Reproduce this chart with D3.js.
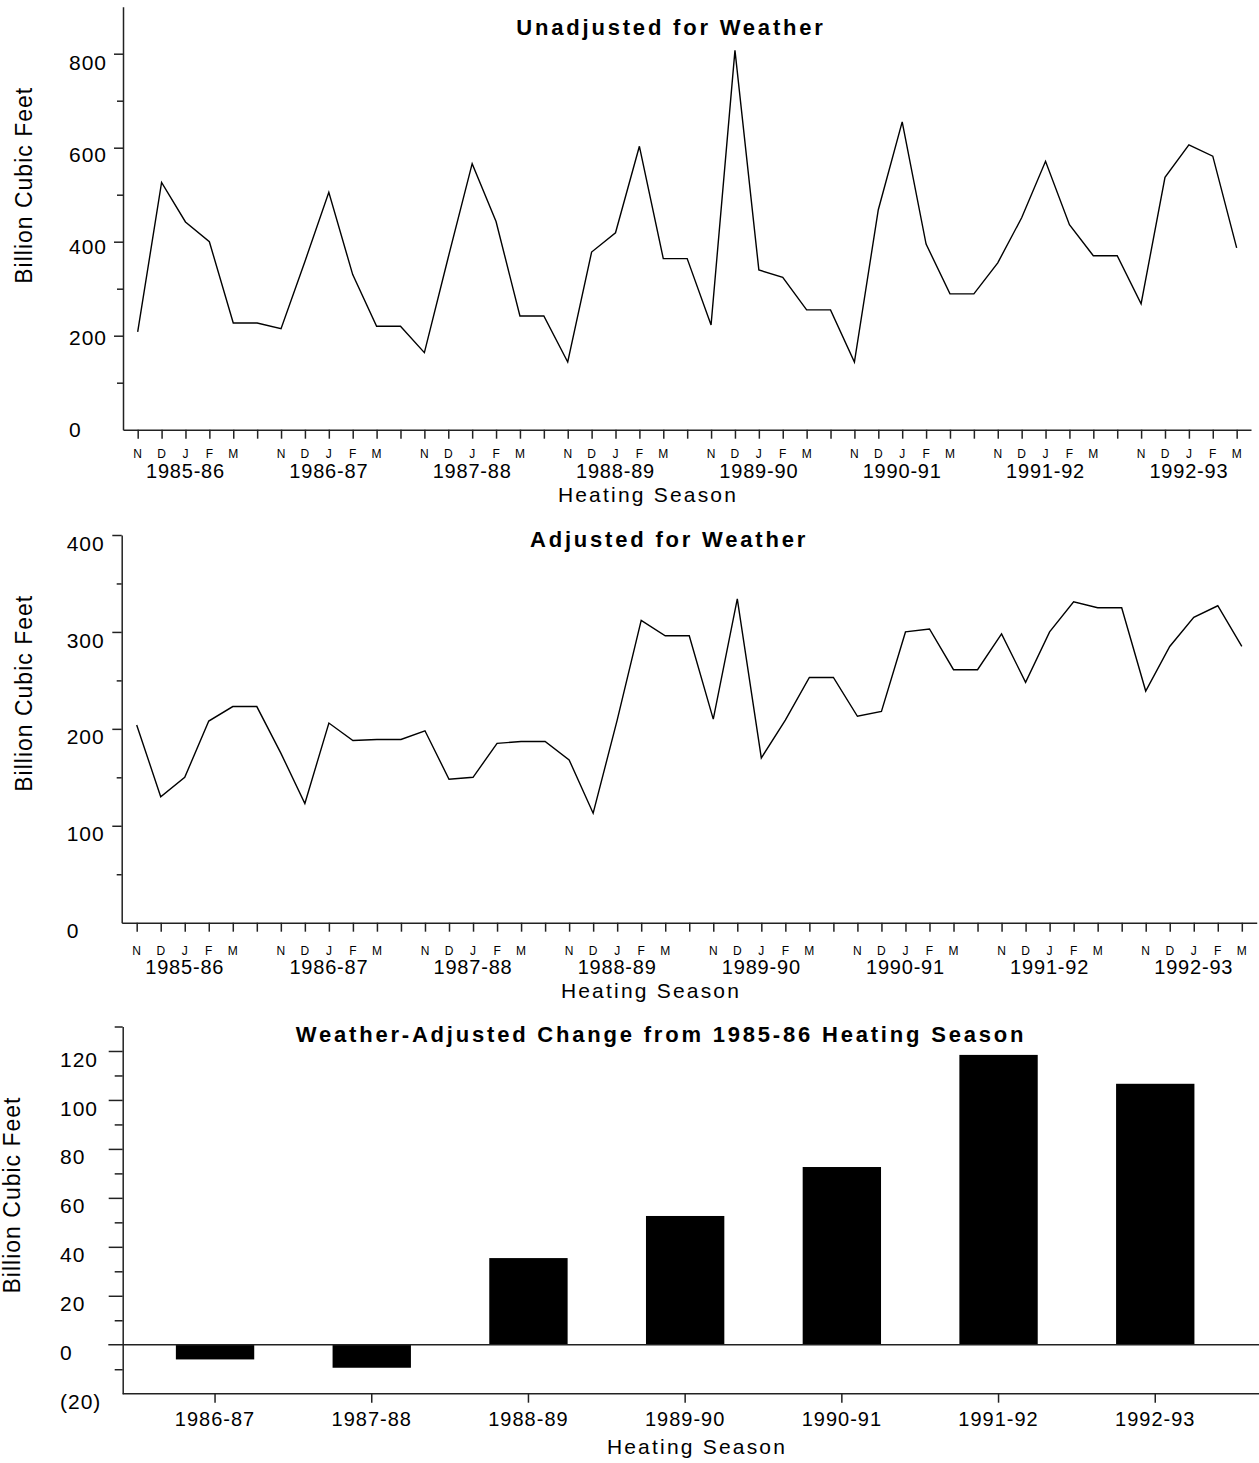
<!DOCTYPE html>
<html>
<head>
<meta charset="utf-8">
<script src="https://cdn.jsdelivr.net/npm/d3@7"></script>
<style>
    body { margin: 0; background: #fff; }
    svg { display: block; font-family: "Liberation Sans", Arial, sans-serif; }
</style>
</head>
<body>
<svg id="chart" width="1259" height="1463"></svg>
<script>
// values (one slot per month, the blank slot after M repeats M)
var seasons = ["1985-86", "1986-87", "1987-88", "1988-89", "1989-90", "1990-91", "1991-92", "1992-93"];
var monthLetters = ["N", "D", "J", "F", "M", ""];

var unadjusted = [
    208, 526, 442, 400, 227, 227,
    215, 358, 505, 330, 220, 220,
    164, 367, 566, 443, 242, 242,
    144, 378, 419, 603, 364, 364,
    223, 807, 340, 324, 255, 255,
    144, 468, 655, 395, 289, 289,
    355, 451, 571, 436, 370, 370,
    268, 537, 606, 582, 387
];

var adjusted = [
    204, 130, 150, 208, 223, 223,
    175, 123, 206, 188, 189, 189,
    198, 148, 150, 185, 187, 187,
    168, 113, 209, 312, 296, 296,
    210, 334, 170, 209, 253, 253,
    213, 218, 300, 303, 261, 261,
    298, 248, 300, 331, 325, 325,
    239, 285, 315, 327, 285
];

var changeSeasons = ["1986-87", "1987-88", "1988-89", "1989-90", "1990-91", "1991-92", "1992-93"];
var changeValues = [-6, -9.4, 35.4, 52.6, 72.6, 118.4, 106.6];

var unadjMajor = [200, 400, 600, 800], unadjMinor = [100, 300, 500, 700], unadjLabels = [0, 200, 400, 600, 800];
var adjMajor = [100, 200, 300, 400], adjMinor = [50, 150, 250, 350], adjLabels = [0, 100, 200, 300, 400];
var chgMajor = [20, 40, 60, 80, 100, 120], chgMinor = [-10, 10, 30, 50, 70, 90, 110, 130], chgLabels = [-20, 0, 20, 40, 60, 80, 100, 120];

var svg = d3.select("#chart");
var AXIS = "#222";

function styleAxis(sel) {
    sel.selectAll("path, line").attr("stroke", AXIS).attr("stroke-width", 1.5);
    return sel;
}

function yLabel(x, y) {
    svg.append("text")
        .attr("transform", `translate(${x},${y}) rotate(-90)`)
        .attr("text-anchor", "middle")
        .style("font-size", "23px").style("letter-spacing", "1px")
        .text("Billion Cubic Feet");
}

function title(txt, x, y) {
    svg.append("text")
        .attr("x", x).attr("y", y)
        .attr("text-anchor", "middle")
        .style("font-size", "22px").style("font-weight", "bold").style("letter-spacing", "2.8px")
        .text(txt);
}

function xTitle(x, y) {
    svg.append("text")
        .attr("x", x).attr("y", y)
        .attr("text-anchor", "middle")
        .style("font-size", "21px").style("letter-spacing", "2.2px")
        .text("Heating Season");
}

// line panels: top and middle
function linePanel(o) {
    const n = o.values.length;
    const x = d3.scaleLinear().domain(o.xDomain).range(o.xRange);
    const y = d3.scaleLinear().domain(o.yDomain).range(o.yRange);
    const yLab = d3.scaleLinear().domain(o.yDomain).range(o.labRange);
    const g = svg.append("g");

    styleAxis(g.append("g")
        .attr("transform", `translate(0,${o.yRange[0]})`)
        .call(d3.axisBottom(x).tickValues(d3.range(n)).tickSize(9).tickSizeOuter(0).tickFormat("")));

    styleAxis(g.append("g")
        .attr("transform", `translate(${o.xRange[0]},0)`)
        .call(d3.axisLeft(y).tickValues(o.major).tickSize(o.majorLen).tickSizeOuter(0).tickFormat("")));

    const minor = g.append("g")
        .attr("transform", `translate(${o.xRange[0]},0)`)
        .call(d3.axisLeft(y).tickValues(o.minor).tickSize(o.minorLen).tickFormat(""));
    minor.select(".domain").remove();
    styleAxis(minor);

    g.selectAll("text.ylab").data(o.labels).join("text")
        .attr("class", "ylab")
        .attr("x", o.labelX)
        .attr("y", d => yLab(d))
        .attr("dy", "0.36em")
        .style("font-size", "21px").style("letter-spacing", "1px")
        .text(d => d);

    g.selectAll("text.month").data(d3.range(n).filter(k => monthLetters[k % 6] !== "")).join("text")
        .attr("class", "month")
        .attr("x", k => x(k))
        .attr("y", o.monthY)
        .attr("text-anchor", "middle")
        .style("font-size", "12px")
        .text(k => monthLetters[k % 6]);

    g.selectAll("text.season").data(seasons).join("text")
        .attr("class", "season")
        .attr("x", (d, i) => x(i * 6 + 2))
        .attr("y", o.seasonY)
        .attr("text-anchor", "middle")
        .style("font-size", "20px").style("letter-spacing", "0.8px")
        .text(d => d);

    const line = d3.line().x((d, i) => x(i)).y(d => y(d));
    g.append("path")
        .datum(o.values)
        .attr("d", line)
        .attr("fill", "none")
        .attr("stroke", "#000")
        .attr("stroke-width", 1.4)
        .attr("stroke-linejoin", "miter");
}

linePanel({
    values: unadjusted,
    xDomain: [-0.615, 46.6], xRange: [123, 1251],
    yDomain: [0, 900], yRange: [429.7, 6.7], labRange: [429.5, 16.8],
    major: unadjMajor, minor: unadjMinor, labels: unadjLabels,
    majorLen: 9, minorLen: 6, labelX: 69,
    monthY: 457.7, seasonY: 477.5
});
title("Unadjusted for Weather", 671, 35);
xTitle(648, 502);
yLabel(31.7, 185.3);

linePanel({
    values: adjusted,
    xDomain: [-0.624, 46.62], xRange: [121.7, 1256.7],
    yDomain: [0, 400], yRange: [922.7, 535], labRange: [930, 543.3],
    major: adjMajor, minor: adjMinor, labels: adjLabels,
    majorLen: 9.4, minorLen: 5, labelX: 66.7,
    monthY: 955, seasonY: 974
});
title("Adjusted for Weather", 669, 546.7);
xTitle(651, 998);
yLabel(31.7, 693.3);

// bottom bar panel
(function () {
    const x = d3.scaleBand().domain(changeSeasons).range([136.7, 1233.6]).paddingInner(0.5).paddingOuter(0.25);
    const y = d3.scaleLinear().domain([-20, 130]).range([1393.7, 1026.5]);
    const left = 122.7, right = 1259;
    const g = svg.append("g");

    g.selectAll("rect.bar").data(changeValues).join("rect")
        .attr("class", "bar")
        .attr("x", (d, i) => x(changeSeasons[i]))
        .attr("width", x.bandwidth())
        .attr("y", d => y(Math.max(0, d)))
        .attr("height", d => Math.abs(y(d) - y(0)))
        .attr("fill", "#000");

    // bottom axis line and season ticks
    g.append("line")
        .attr("x1", left).attr("x2", right)
        .attr("y1", y(-20)).attr("y2", y(-20))
        .attr("stroke", AXIS).attr("stroke-width", 1.5);
    const xa = g.append("g")
        .attr("transform", `translate(0,${y(-20)})`)
        .call(d3.axisBottom(x).tickSize(9).tickSizeOuter(0).tickPadding(9));
    xa.select(".domain").remove();
    styleAxis(xa);
    xa.selectAll("text")
        .attr("fill", "#000")
        .style("font-size", "20px").style("font-family", "'Liberation Sans', Arial, sans-serif")
        .style("letter-spacing", "1px");

    styleAxis(g.append("g")
        .attr("transform", `translate(${left},0)`)
        .call(d3.axisLeft(y).tickValues(chgMajor).tickSize(14).tickSizeOuter(0).tickFormat("")));
    const minor = g.append("g")
        .attr("transform", `translate(${left},0)`)
        .call(d3.axisLeft(y).tickValues(chgMinor).tickSize(8).tickFormat(""));
    minor.select(".domain").remove();
    styleAxis(minor);

    // zero line
    g.append("line")
        .attr("x1", 108.3).attr("x2", right)
        .attr("y1", y(0)).attr("y2", y(0))
        .attr("stroke", AXIS).attr("stroke-width", 1.5);

    const fmt = v => v < 0 ? "(" + Math.abs(v) + ")" : String(v);
    g.selectAll("text.ylab").data(chgLabels).join("text")
        .attr("class", "ylab")
        .attr("x", 60)
        .attr("y", d => y(d) + 8)
        .attr("dy", "0.36em")
        .style("font-size", "21px").style("letter-spacing", "1px")
        .text(fmt);
})();
title("Weather-Adjusted Change from 1985-86 Heating Season", 661, 1041.7);
xTitle(697, 1454);
yLabel(20, 1195);
</script>
</body>
</html>
